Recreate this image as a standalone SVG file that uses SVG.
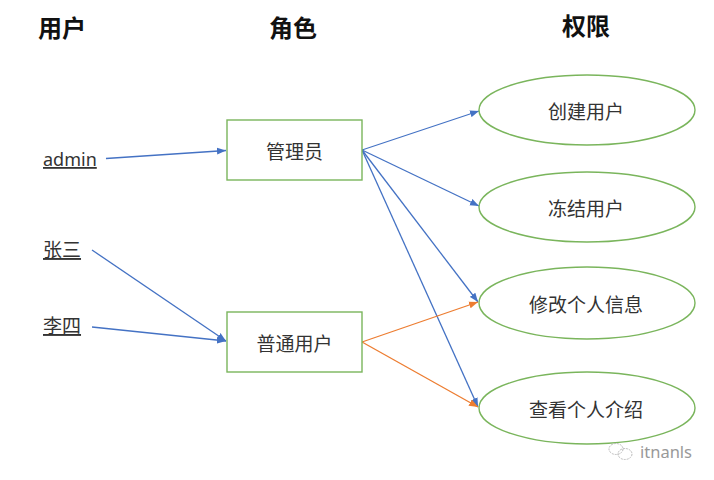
<svg xmlns="http://www.w3.org/2000/svg" width="714" height="480" viewBox="0 0 714 480">
<style>
.hdr{font-family:"Noto Sans CJK SC","Noto Sans",sans-serif;font-size:24px;font-weight:bold;fill:#111;text-anchor:middle}
.lbl{font-family:"Noto Sans CJK SC","Noto Sans",sans-serif;font-size:19px;fill:#333;text-anchor:middle;dominant-baseline:central}
.usr{font-family:"Noto Sans","Noto Sans CJK SC",sans-serif;font-size:18px;fill:#333;text-decoration:underline}
.usrc{font-family:"Noto Sans CJK SC","Noto Sans",sans-serif;font-size:19px;fill:#333;text-decoration:underline}
.box{fill:#fff;stroke:#7AB55C;stroke-width:1.4}
.blue{stroke:#4472C4;stroke-width:1.3;fill:none;marker-end:url(#ab)}
.orange{stroke:#ED7D31;stroke-width:1.3;fill:none;marker-end:url(#ao)}
.wm{font-family:"Noto Sans","DejaVu Sans",sans-serif;font-size:16.5px;fill:#999}
</style>
<defs>
<marker id="ab" markerUnits="userSpaceOnUse" markerWidth="10" markerHeight="8" refX="9" refY="4" orient="auto"><path d="M0,0.5 L9,4 L0,7.5 Z" fill="#4472C4"/></marker>
<marker id="ao" markerUnits="userSpaceOnUse" markerWidth="10" markerHeight="8" refX="9" refY="4" orient="auto"><path d="M0,0.5 L9,4 L0,7.5 Z" fill="#ED7D31"/></marker>
</defs>
<rect width="714" height="480" fill="#fff"/>
<g id="headers">
<text class="hdr" x="62" y="37">用户</text>
<text class="hdr" x="293" y="37">角色</text>
<text class="hdr" x="586" y="35">权限</text>
</g>
<g id="connectors">
<path class="blue" d="M106,158.5 L226,150.5"/>
<path class="blue" d="M92,250 L226,341"/>
<path class="blue" d="M92,327 L226,341"/>
<path class="blue" d="M362,150 L479,111"/>
<path class="blue" d="M362,150 L479,206"/>
<path class="blue" d="M362,150 L478,302"/>
<path class="blue" d="M362,150 L478,407"/>
<path class="orange" d="M362,342 L478,302"/>
<path class="orange" d="M362,342 L478,407"/>
</g>
<g id="user-admin"><text class="usr" x="43" y="166">admin</text></g>
<g id="user-zhangsan"><text class="usrc" x="43" y="257">张三</text></g>
<g id="user-lisi"><text class="usrc" x="43" y="333">李四</text></g>
<g id="role-admin"><rect class="box" x="227" y="120" width="135" height="60"/><text class="lbl" x="294.5" y="150">管理员</text></g>
<g id="role-user"><rect class="box" x="227" y="312" width="135" height="60"/><text class="lbl" x="294.5" y="342">普通用户</text></g>
<g id="perm-create"><ellipse class="box" cx="587" cy="110" rx="108" ry="35"/><text class="lbl" x="586" y="110">创建用户</text></g>
<g id="perm-freeze"><ellipse class="box" cx="587" cy="207" rx="108" ry="35"/><text class="lbl" x="586" y="207">冻结用户</text></g>
<g id="perm-edit"><ellipse class="box" cx="587" cy="303" rx="108" ry="36"/><text class="lbl" x="586" y="303">修改个人信息</text></g>
<g id="perm-view"><ellipse class="box" cx="587" cy="408" rx="108" ry="36"/><text class="lbl" x="586" y="408">查看个人介绍</text></g>
<g id="watermark">
<ellipse cx="616" cy="449" rx="7" ry="5.5" fill="none" stroke="#bbb" stroke-width="1" stroke-dasharray="2,1"/>
<ellipse cx="625" cy="454" rx="7" ry="5.5" fill="none" stroke="#bbb" stroke-width="1" stroke-dasharray="2,1"/>
<text class="wm" x="640" y="458">itnanls</text>
</g>
</svg>
